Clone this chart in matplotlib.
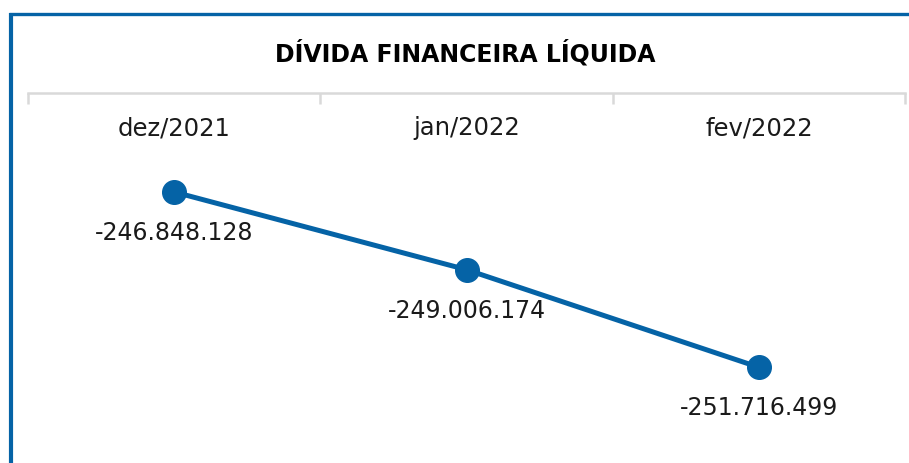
import matplotlib
matplotlib.use("Agg")
import matplotlib.pyplot as plt
from matplotlib.lines import Line2D
import matplotlib.transforms as mtransforms

categories = ["dez/2021", "jan/2022", "fev/2022"]
values = [-246848128, -249006174, -251716499]
labels = ["-246.848.128", "-249.006.174", "-251.716.499"]
title = "DÍVIDA FINANCEIRA LÍQUIDA"

BLUE = "#0563A6"
TXT = "#1A1A1A"
W, H = 909, 463
fig = plt.figure(figsize=(W / 100, H / 100), dpi=100)

# axes: x from 28 to 905 px, y from 93 (top) to 455 (bottom)
ax = fig.add_axes([28 / W, 1 - 455 / H, (905 - 28) / W, (455 - 93) / H])
vals_m = [v / 1e6 for v in values]
ppu = 36.0  # pixels per million
top = vals_m[0] + (192 - 93) / ppu
bottom = top - (455 - 93) / ppu
ax.set_ylim(bottom, top)
ax.set_xlim(-0.5, 2.5)

x = list(range(len(categories)))
ax.plot(x, vals_m, color=BLUE, lw=3.6, marker="o", ms=17, mfc=BLUE, mec=BLUE, solid_capstyle="round")

for xi, yi, lab in zip(x, vals_m, labels):
    ax.annotate(lab, (xi, yi), xytext=(0, -41), textcoords="offset pixels",
                ha="center", va="center", fontsize=17, color=TXT, family="DejaVu Sans")

for s in ["bottom", "left", "right"]:
    ax.spines[s].set_visible(False)
ax.spines["top"].set_color("#D9D9D9")
ax.spines["top"].set_linewidth(1.8)
ax.yaxis.set_visible(False)
ax.xaxis.tick_top()
ax.set_xticks(x)
ax.set_xticklabels([])
ax.tick_params(axis="x", which="major", length=0)
ax.set_xticks([-0.5, 0.5, 1.5, 2.5], minor=True)
ax.tick_params(axis="x", which="minor", length=8, width=1.8, color="#D9D9D9", direction="in", top=True)

# category labels just below the top axis line
trans = mtransforms.blended_transform_factory(ax.transData, ax.transAxes)
for xi, cat in zip(x, categories):
    ax.annotate(cat, (xi, 1), xycoords=trans, xytext=(0, -35), textcoords="offset pixels",
                ha="center", va="center", fontsize=17.5, color=TXT, family="DejaVu Sans")

fig.text(465 / W, 1 - 53 / H, title, ha="center", va="center", fontsize=17,
         fontweight="bold", family="DejaVu Sans", color="#000000")

# border
fig.add_artist(Line2D([9 / W, 1], [1 - 13.5 / H, 1 - 13.5 / H], color=BLUE, lw=2.4,
                      solid_capstyle="butt", transform=fig.transFigure))
fig.add_artist(Line2D([10.5 / W, 10.5 / W], [0, 1 - 12.5 / H], color=BLUE, lw=3.0,
                      solid_capstyle="butt", transform=fig.transFigure))

fig.savefig("out.png", dpi=100)
